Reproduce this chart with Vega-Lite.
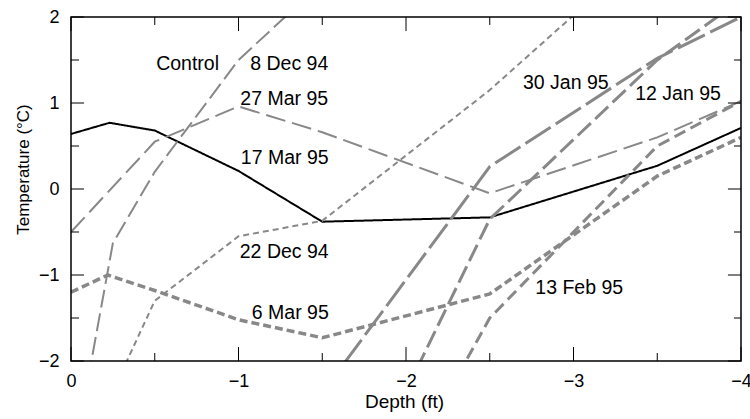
{
  "$schema": "https://vega.github.io/schema/vega-lite/v6.json",
  "width": 670,
  "height": 344,
  "autosize": {"type": "none"},
  "padding": {"left": 71, "top": 17, "right": 9, "bottom": 58},
  "background": "white",
  "config": {
    "view": {"stroke": null},
    "font": "Liberation Sans",
    "axis": {
      "grid": false,
      "domain": false,
      "ticks": false,
      "labelFont": "Liberation Sans",
      "labelFontSize": 18,
      "labelColor": "black",
      "labelFlush": false,
      "labelOverlap": false,
      "titleFont": "Liberation Sans",
      "titleFontWeight": "normal",
      "titleColor": "black"
    }
  },
  "datasets": {
    "lines": [
      {"series": "Control", "depth": 0, "temp": 0.64},
      {"series": "Control", "depth": -0.23, "temp": 0.77},
      {"series": "Control", "depth": -0.5, "temp": 0.68},
      {"series": "Control", "depth": -1, "temp": 0.21},
      {"series": "Control", "depth": -1.5, "temp": -0.38},
      {"series": "Control", "depth": -2.5, "temp": -0.33},
      {"series": "Control", "depth": -3.5, "temp": 0.27},
      {"series": "Control", "depth": -4, "temp": 0.71},
      {"series": "8 Dec 94", "depth": 0, "temp": -3.3},
      {"series": "8 Dec 94", "depth": -0.25, "temp": -0.63},
      {"series": "8 Dec 94", "depth": -0.5, "temp": 0.2},
      {"series": "8 Dec 94", "depth": -1, "temp": 1.5},
      {"series": "8 Dec 94", "depth": -1.5, "temp": 2.4},
      {"series": "27 Mar 95", "depth": 0, "temp": -0.5},
      {"series": "27 Mar 95", "depth": -0.5, "temp": 0.55},
      {"series": "27 Mar 95", "depth": -1, "temp": 0.96},
      {"series": "27 Mar 95", "depth": -1.5, "temp": 0.66},
      {"series": "27 Mar 95", "depth": -2.5, "temp": -0.05},
      {"series": "27 Mar 95", "depth": -3.5, "temp": 0.6},
      {"series": "27 Mar 95", "depth": -4, "temp": 1.02},
      {"series": "22 Dec 94", "depth": -0.25, "temp": -2.35},
      {"series": "22 Dec 94", "depth": -0.5, "temp": -1.3},
      {"series": "22 Dec 94", "depth": -1, "temp": -0.55},
      {"series": "22 Dec 94", "depth": -1.5, "temp": -0.37},
      {"series": "22 Dec 94", "depth": -2.5, "temp": 1.15},
      {"series": "22 Dec 94", "depth": -3, "temp": 2.02},
      {"series": "6 Mar 95", "depth": 0, "temp": -1.2},
      {"series": "6 Mar 95", "depth": -0.22, "temp": -1.0},
      {"series": "6 Mar 95", "depth": -0.5, "temp": -1.18},
      {"series": "6 Mar 95", "depth": -1, "temp": -1.52},
      {"series": "6 Mar 95", "depth": -1.5, "temp": -1.73},
      {"series": "6 Mar 95", "depth": -2.5, "temp": -1.22},
      {"series": "6 Mar 95", "depth": -3.5, "temp": 0.15},
      {"series": "6 Mar 95", "depth": -4, "temp": 0.6},
      {"series": "13 Feb 95", "depth": -2, "temp": -3.25},
      {"series": "13 Feb 95", "depth": -2.5, "temp": -1.5},
      {"series": "13 Feb 95", "depth": -3.5, "temp": 0.5},
      {"series": "13 Feb 95", "depth": -4, "temp": 1.02},
      {"series": "30 Jan 95", "depth": -1.5, "temp": -2.37},
      {"series": "30 Jan 95", "depth": -2.5, "temp": 0.26},
      {"series": "30 Jan 95", "depth": -3.5, "temp": 1.52},
      {"series": "30 Jan 95", "depth": -4, "temp": 2.0},
      {"series": "12 Jan 95", "depth": -1.5, "temp": -4.35},
      {"series": "12 Jan 95", "depth": -2.5, "temp": -0.35},
      {"series": "12 Jan 95", "depth": -3.5, "temp": 1.5},
      {"series": "12 Jan 95", "depth": -4, "temp": 2.2}
    ],
    "labels": [
      {"label": "Control", "depth": -0.696, "temp": 1.448},
      {"label": "8 Dec 94", "depth": -1.303, "temp": 1.448},
      {"label": "27 Mar 95", "depth": -1.273, "temp": 1.05},
      {"label": "17 Mar 95", "depth": -1.276, "temp": 0.363},
      {"label": "22 Dec 94", "depth": -1.273, "temp": -0.729},
      {"label": "6 Mar 95", "depth": -1.309, "temp": -1.44},
      {"label": "13 Feb 95", "depth": -3.034, "temp": -1.149},
      {"label": "30 Jan 95", "depth": -2.954, "temp": 1.235},
      {"label": "12 Jan 95", "depth": -3.624, "temp": 1.11}
    ],
    "xmajor": [{"depth": 0}, {"depth": -1}, {"depth": -2}, {"depth": -3}, {"depth": -4}],
    "xminor": [{"depth": -0.5}, {"depth": -1.5}, {"depth": -2.5}, {"depth": -3.5}],
    "ymajor": [{"temp": -2}, {"temp": -1}, {"temp": 0}, {"temp": 1}, {"temp": 2}],
    "yminor": [{"temp": -1.5}, {"temp": -0.5}, {"temp": 0.5}, {"temp": 1.5}]
  },
  "layer": [
    {
      "data": {"name": "lines"},
      "mark": {"type": "line", "clip": true, "strokeCap": "butt"},
      "encoding": {
        "x": {
          "field": "depth", "type": "quantitative",
          "scale": {"domain": [0, -4], "nice": false, "zero": false},
          "axis": {
            "orient": "bottom",
            "title": "Depth (ft)",
            "titleFontSize": 19,
            "titleX": 333,
            "titleY": 46,
            "titleBaseline": "alphabetic",
            "values": [0, -1, -2, -3, -4],
            "format": "d",
            "labelBaseline": "alphabetic",
            "labelPadding": 25
          }
        },
        "y": {
          "field": "temp", "type": "quantitative",
          "scale": {"domain": [-2, 2], "nice": false, "zero": false},
          "axis": {
            "orient": "left",
            "title": "Temperature (°C)",
            "titleFontSize": 17,
            "titleX": -43,
            "titleY": 152,
            "titleAngle": 270,
            "titleAlign": "center",
            "titleBaseline": "alphabetic",
            "values": [-2, -1, 0, 1, 2],
            "format": "d",
            "labelAlign": "right",
            "labelBaseline": "middle",
            "labelPadding": 12
          }
        },
        "color": {
          "field": "series", "type": "nominal", "legend": null,
          "scale": {
            "domain": ["Control", "8 Dec 94", "27 Mar 95", "22 Dec 94", "6 Mar 95", "13 Feb 95", "30 Jan 95", "12 Jan 95"],
            "range": ["#000000", "#888888", "#888888", "#888888", "#888888", "#888888", "#888888", "#888888"]
          }
        },
        "strokeDash": {
          "field": "series", "type": "nominal", "legend": null,
          "scale": {
            "domain": ["Control", "8 Dec 94", "27 Mar 95", "22 Dec 94", "6 Mar 95", "13 Feb 95", "30 Jan 95", "12 Jan 95"],
            "range": [[1, 0], [18, 6], [20, 7], [6, 4], [8, 4], [12, 6], [30, 6], [18, 6]]
          }
        },
        "strokeWidth": {
          "field": "series", "type": "nominal", "legend": null,
          "scale": {
            "type": "ordinal",
            "domain": ["Control", "8 Dec 94", "27 Mar 95", "22 Dec 94", "6 Mar 95", "13 Feb 95", "30 Jan 95", "12 Jan 95"],
            "range": [2, 2, 2, 2, 3.5, 3, 3, 3]
          }
        }
      }
    },
    {
      "data": {"name": "labels"},
      "mark": {"type": "text", "font": "Liberation Sans", "fontSize": 19.5, "align": "center", "baseline": "middle", "color": "black"},
      "encoding": {
        "x": {"field": "depth", "type": "quantitative", "axis": null},
        "y": {"field": "temp", "type": "quantitative", "axis": null},
        "text": {"field": "label", "type": "nominal"}
      }
    },
    {
      "mark": {"type": "rect", "fill": null, "stroke": "black", "strokeWidth": 1.5},
      "data": {"values": [{}]},
      "encoding": {
        "x": {"datum": 0, "type": "quantitative", "axis": null},
        "x2": {"datum": -4},
        "y": {"datum": -2, "type": "quantitative", "axis": null},
        "y2": {"datum": 2}
      }
    },
    {
      "data": {"name": "xmajor"},
      "mark": {"type": "rule", "stroke": "black", "strokeWidth": 1},
      "encoding": {"x": {"field": "depth", "type": "quantitative", "axis": null}, "y": {"datum": -2, "type": "quantitative", "axis": null}, "y2": {"datum": -1.837}}
    },
    {
      "data": {"name": "xmajor"},
      "mark": {"type": "rule", "stroke": "black", "strokeWidth": 1},
      "encoding": {"x": {"field": "depth", "type": "quantitative", "axis": null}, "y": {"datum": 2, "type": "quantitative", "axis": null}, "y2": {"datum": 1.837}}
    },
    {
      "data": {"name": "xminor"},
      "mark": {"type": "rule", "stroke": "black", "strokeWidth": 1},
      "encoding": {"x": {"field": "depth", "type": "quantitative", "axis": null}, "y": {"datum": -2, "type": "quantitative", "axis": null}, "y2": {"datum": -1.907}}
    },
    {
      "data": {"name": "xminor"},
      "mark": {"type": "rule", "stroke": "black", "strokeWidth": 1},
      "encoding": {"x": {"field": "depth", "type": "quantitative", "axis": null}, "y": {"datum": 2, "type": "quantitative", "axis": null}, "y2": {"datum": 1.907}}
    },
    {
      "data": {"name": "ymajor"},
      "mark": {"type": "rule", "stroke": "black", "strokeWidth": 1},
      "encoding": {"y": {"field": "temp", "type": "quantitative", "axis": null}, "x": {"datum": 0, "type": "quantitative", "axis": null}, "x2": {"datum": -0.078}}
    },
    {
      "data": {"name": "ymajor"},
      "mark": {"type": "rule", "stroke": "black", "strokeWidth": 1},
      "encoding": {"y": {"field": "temp", "type": "quantitative", "axis": null}, "x": {"datum": -4, "type": "quantitative", "axis": null}, "x2": {"datum": -3.922}}
    },
    {
      "data": {"name": "yminor"},
      "mark": {"type": "rule", "stroke": "black", "strokeWidth": 1},
      "encoding": {"y": {"field": "temp", "type": "quantitative", "axis": null}, "x": {"datum": 0, "type": "quantitative", "axis": null}, "x2": {"datum": -0.048}}
    },
    {
      "data": {"name": "yminor"},
      "mark": {"type": "rule", "stroke": "black", "strokeWidth": 1},
      "encoding": {"y": {"field": "temp", "type": "quantitative", "axis": null}, "x": {"datum": -4, "type": "quantitative", "axis": null}, "x2": {"datum": -3.958}}
    }
  ],
  "resolve": {"axis": {"x": "independent", "y": "independent"}}
}
